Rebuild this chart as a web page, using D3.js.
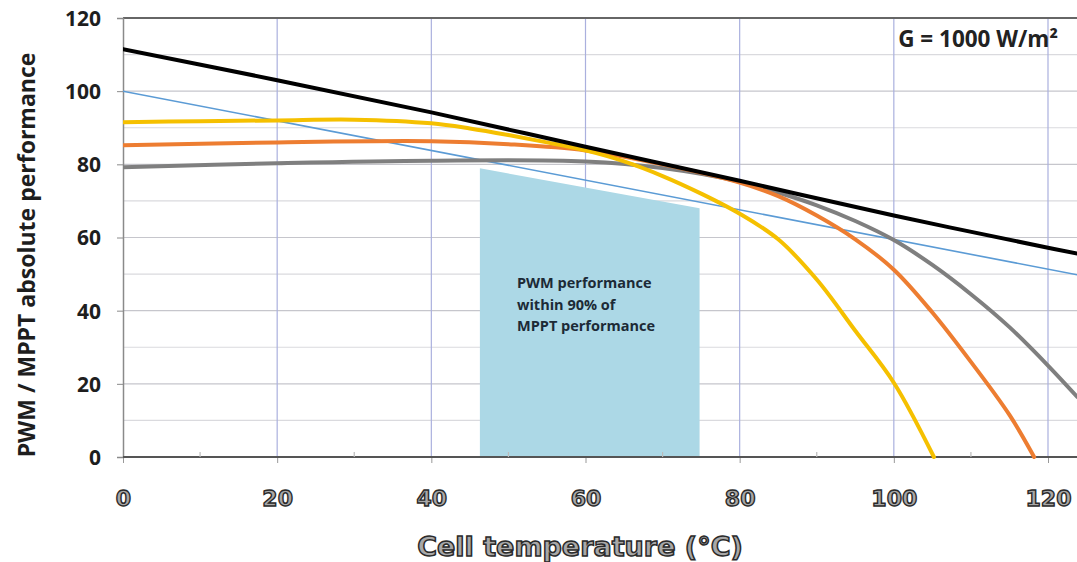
<!DOCTYPE html>
<html><head><meta charset="utf-8">
<script src="https://cdn.jsdelivr.net/npm/d3@7"></script>
<style>body{margin:0;background:#fff}svg{display:block}</style>
</head><body>
<svg id="c" width="1077" height="562"></svg>
<script>
// ---- data ----
const xTicks = [0, 20, 40, 60, 80, 100, 120];
const yTicks = [0, 20, 40, 60, 80, 100, 120];
const mpptT = [0, 20, 40, 60, 80, 100, 120, 123.8];
const mpptV = [111.5, 103, 94.2, 84.8, 75.5, 66, 57.2, 55.6];
const pwm90T = [0, 123.8];
const pwm90V = [100, 49.8];
const yellowT = [0, 10, 20, 30, 40, 45, 50, 55, 60, 65, 70, 75, 80, 85, 90, 95, 100, 105.2];
const yellowV = [91.5, 91.8, 92, 92.2, 91.2, 89.8, 88, 86, 83.8, 80.8, 76.8, 72, 66.5, 59.5, 48.5, 34.5, 20.3, 0];
const orangeT = [0, 20, 40, 50, 60, 70, 80, 85, 90, 95, 100, 105, 110, 115, 118.2];
const orangeV = [85.2, 86, 86.3, 85.5, 83.8, 80, 75, 71.3, 66, 59.5, 51.2, 39.5, 26, 11.5, 0];
const grayT = [0, 20, 40, 60, 70, 80, 85, 90, 95, 100, 105, 110, 115, 120, 123.8];
const grayV = [79.2, 80.3, 81, 80.8, 79, 75.3, 72.3, 68.8, 64.5, 59.3, 52.5, 44.5, 35.5, 25, 16.4];
const zoneT = [46.3, 74.8];
const zoneTop = [78.9, 68];
const zoneLines = ["PWM performance", "within 90% of", "MPPT performance"];
const irradiance = "G = 1000 W/m²";
const yTitle = "PWM / MPPT absolute performance";
const xTitle = "Cell temperature (°C)";

// ---- layout ----
const svg = d3.select("#c");
const L = 123, R = 1077, T = 18, B = 457;
const x = d3.scaleLinear().domain([0, 120]).range([L, 1048]);
const y = d3.scaleLinear().domain([0, 120]).range([B, T]);

svg.append("defs").append("clipPath").attr("id", "clip")
  .append("rect").attr("x", L).attr("y", T - 2).attr("width", R - L).attr("height", B - T + 4);

// horizontal gridlines every 10
const g = svg.append("g");
d3.range(10, 120, 10).forEach(v => {
  g.append("line").attr("x1", L).attr("x2", R).attr("y1", y(v)).attr("y2", y(v))
    .attr("stroke", v % 20 === 0 ? "#c6c6cc" : "#dadade").attr("stroke-width", 1.2);
});
// vertical gridlines
xTicks.filter(t => t > 0).forEach(t => {
  g.append("line").attr("x1", x(t)).attr("x2", x(t)).attr("y1", T).attr("y2", B)
    .attr("stroke", "#aab0de").attr("stroke-width", 1.2);
});
// top border
g.append("line").attr("x1", L).attr("x2", R).attr("y1", T).attr("y2", T)
  .attr("stroke", "#666").attr("stroke-width", 2);

// zone
const zoneArea = d3.area().x(d => x(d[0])).y0(y(0)).y1(d => y(d[1]));
svg.append("path").datum(zoneT.map((t, i) => [t, zoneTop[i]]))
  .attr("d", zoneArea).attr("fill", "#acd8e6");
const zt = svg.append("text").attr("font-family", "Open Sans, sans-serif")
  .attr("font-weight", "bold").attr("font-size", 14.5).attr("fill", "#1c2a36");
zoneLines.forEach((s, i) => zt.append("tspan").attr("x", 517).attr("y", 288 + i * 21.5).text(s));

// axes
const yAxis = d3.axisLeft(y).tickValues(yTicks).tickSize(6).tickFormat(d3.format("d"));
const ya = svg.append("g").attr("transform", `translate(${L},0)`).call(yAxis);
ya.select(".domain").attr("stroke", "#8a8a8a").attr("stroke-width", 1.5);
ya.selectAll(".tick line").attr("stroke", "#8a8a8a");
ya.selectAll(".tick text").attr("x", -22).attr("dy", "0.35em")
  .attr("font-family", "Open Sans, sans-serif").attr("font-weight", "bold")
  .attr("font-size", 21).attr("fill", "#1e1e1e");

const xAxis = d3.axisBottom(x).tickValues(xTicks).tickSize(6).tickFormat(d3.format("d"));
const xa = svg.append("g").attr("transform", `translate(0,${B})`).call(xAxis);
xa.select(".domain").remove();
xa.append("line").attr("x1", L).attr("x2", R).attr("stroke", "#555").attr("stroke-width", 2);
xa.selectAll(".tick line").attr("stroke", "#999");
xa.selectAll(".tick text").attr("y", 49).attr("dy", 0)
  .attr("font-family", "DejaVu Sans, sans-serif").attr("font-weight", "bold")
  .attr("font-size", 22).attr("fill", "#a8a8a8").attr("stroke", "#2a2a2a").attr("stroke-width", 1.4);
// minor ticks
d3.range(10, 125, 20).forEach(t => {
  xa.append("line").attr("x1", x(t)).attr("x2", x(t)).attr("y1", 0).attr("y2", -5)
    .attr("stroke", "#bbb").attr("stroke-width", 1.2);
});

// lines
const line = d3.line().x(d => x(d[0])).y(d => y(d[1])).curve(d3.curveCatmullRom.alpha(0.5));
const lines = svg.append("g").attr("clip-path", "url(#clip)").attr("fill", "none")
  .attr("stroke-linejoin", "round").attr("stroke-linecap", "round");
const zip = (a, b) => a.map((t, i) => [t, b[i]]);
lines.append("path").datum(zip(pwm90T, pwm90V)).attr("d", line).attr("stroke", "#5b9bd5").attr("stroke-width", 1.6);
lines.append("path").datum(zip(grayT, grayV)).attr("d", line).attr("stroke", "#7f7f7f").attr("stroke-width", 4);
lines.append("path").datum(zip(orangeT, orangeV)).attr("d", line).attr("stroke", "#ed7d31").attr("stroke-width", 4);
lines.append("path").datum(zip(yellowT, yellowV)).attr("d", line).attr("stroke", "#f5c000").attr("stroke-width", 4);
lines.append("path").datum(zip(mpptT, mpptV)).attr("d", line).attr("stroke", "#000").attr("stroke-width", 4);

// annotations
svg.append("text").attr("x", 1058).attr("y", 47).attr("text-anchor", "end")
  .attr("font-family", "Open Sans, sans-serif").attr("font-weight", "bold")
  .attr("font-size", 22.5).attr("fill", "#222").text(irradiance);

svg.append("text").attr("transform", `translate(35,255) rotate(-90)`)
  .attr("text-anchor", "middle").attr("font-family", "Open Sans, sans-serif")
  .attr("font-weight", "bold").attr("font-size", 23).attr("fill", "#1e1e1e").text(yTitle);

svg.append("text").attr("x", 580).attr("y", 556).attr("text-anchor", "middle")
  .attr("font-family", "DejaVu Sans, sans-serif").attr("font-weight", "bold")
  .attr("font-size", 27).attr("fill", "#a8a8a8").attr("stroke", "#2a2a2a").attr("stroke-width", 1.5)
  .text(xTitle);
</script>
</body></html>
